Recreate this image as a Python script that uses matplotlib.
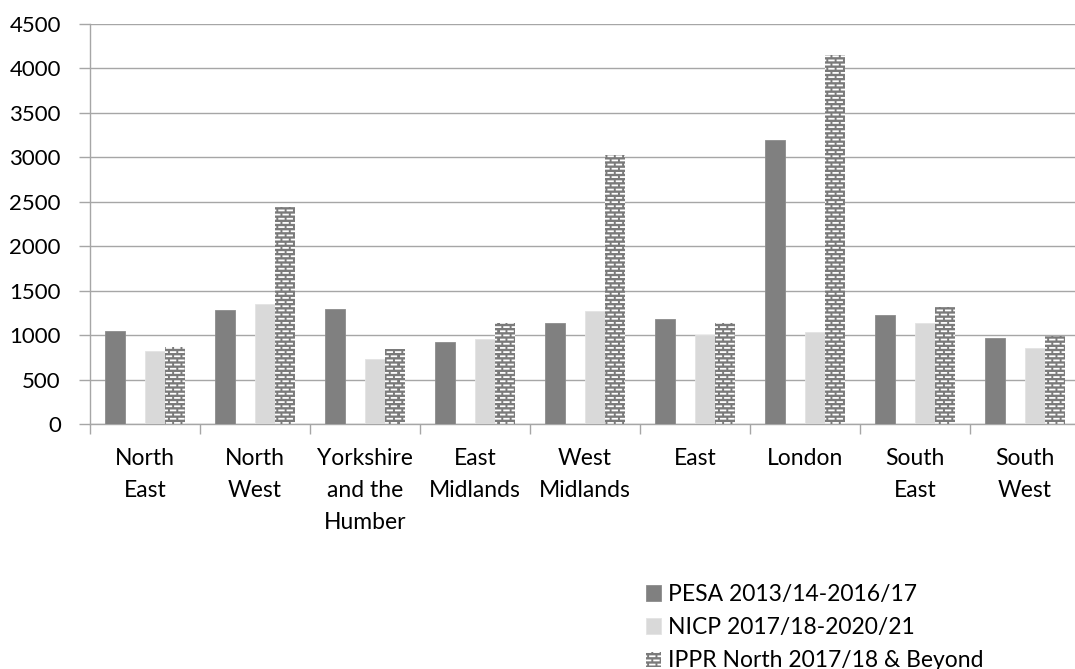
import numpy as np
import matplotlib
matplotlib.use("Agg")
import matplotlib.pyplot as plt
import matplotlib.hatch as mhatch
from matplotlib.path import Path

# ---------------- data ----------------
regions = ["North\nEast", "North\nWest", "Yorkshire\nand the\nHumber", "East\nMidlands",
           "West\nMidlands", "East", "London", "South\nEast", "South\nWest"]
pesa = [1045, 1286, 1297, 919, 1133, 1185, 3195, 1230, 971]
nicp = [824, 1353, 731, 953, 1271, 1005, 1031, 1140, 855]
ippr = [863, 2441, 847, 1133, 3026, 1136, 4148, 1313, 987]
series_names = ["PESA 2013/14-2016/17", "NICP 2017/18-2020/21", "IPPR North 2017/18 & Beyond"]
yticks = [0, 500, 1000, 1500, 2000, 2500, 3000, 3500, 4000, 4500]

# ------------- custom brick-dash hatch (replaces '-') -------------
class BrickDashHatch(mhatch.HatchPatternBase):
    def __init__(self, hatch, density):
        self.rows = 24 if hatch.count('-') > 0 else 0
        self.per_row = 12
        self.num_vertices = self.rows * (self.per_row + 1) * 2

    def set_vertices_and_codes(self, vertices, codes):
        period = 1.0 / self.per_row
        dash = period * 0.55
        k = 0
        for r in range(self.rows):
            y = (r + 0.5) / self.rows
            off = 0.0 if r % 2 == 0 else period / 2
            for j in range(-1, self.per_row):
                x0 = off + j * period
                x1 = x0 + dash
                vertices[k] = (max(x0, 0.0), y)
                vertices[k + 1] = (min(max(x1, 0.0), 1.0), y)
                codes[k] = Path.MOVETO
                codes[k + 1] = Path.LINETO
                k += 2

mhatch._hatch_types[:] = [t for t in mhatch._hatch_types
                          if t is not mhatch.HorizontalHatch] + [BrickDashHatch]

plt.rcParams['font.family'] = ['Lato', 'DejaVu Sans']
plt.rcParams['hatch.linewidth'] = 1.3

W, H = 1075, 669
fig = plt.figure(figsize=(W / 100, H / 100), dpi=100)
ax = fig.add_axes([90 / W, 245 / H, 990 / W, 400 / H])

x = np.arange(len(regions))
bw = 0.181
c_pesa = "#808080"
c_nicp = "#d9d9d9"

b1 = ax.bar(x - 1.5 * bw, pesa, bw, color=c_pesa, edgecolor="#8c8c8c", linewidth=0.6,
            label=series_names[0], zorder=3)
b2 = ax.bar(x + 0.5 * bw, nicp, bw, color=c_nicp, edgecolor="#e3e3e3", linewidth=0.6,
            label=series_names[1], zorder=3)
b3 = ax.bar(x + 1.5 * bw, ippr, bw, color="#7a7a7a", edgecolor="white", linewidth=0,
            hatch='-', label=series_names[2], zorder=3)

ax.set_ylim(0, 4500)
ax.set_xlim(-0.5, len(regions) - 0.5)
ax.set_yticks(yticks)
ax.set_yticklabels([str(v) for v in yticks])
ax.grid(axis='y', color="#a6a6a6", linewidth=1.0, zorder=0)

ax.set_xticks(np.arange(len(regions) + 1) - 0.5)
ax.set_xticklabels([])
ax.set_xticks(x, minor=True)
ax.set_xticklabels(regions, minor=True, fontsize=16.5, linespacing=1.66, va='top')
ax.tick_params(axis='x', which='minor', length=0, pad=17)
ax.tick_params(axis='x', which='major', length=7, color="#a6a6a6", width=1.0)
ax.tick_params(axis='y', length=8, color="#a6a6a6", width=1.0, labelsize=16, pad=13)

for s in ['top', 'right']:
    ax.spines[s].set_visible(False)
for s in ['left', 'bottom']:
    ax.spines[s].set_color("#a6a6a6")
    ax.spines[s].set_linewidth(1.0)

fig.legend(handles=[b1, b2, b3], labels=series_names, loc='upper left',
           bbox_to_anchor=(646 / W, 1 - 584 / H), frameon=False, fontsize=16.5,
           handlelength=0.65, handleheight=0.65, handletextpad=0.3,
           labelspacing=0.53, borderpad=0, borderaxespad=0)

fig.savefig("out.png", dpi=100)
